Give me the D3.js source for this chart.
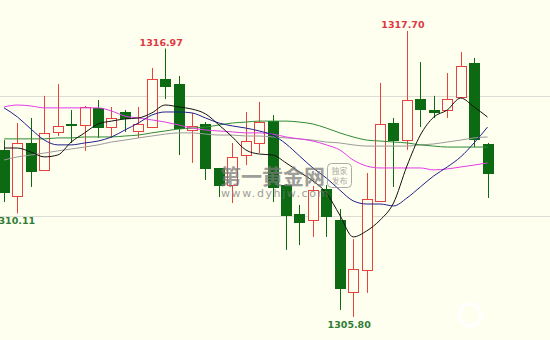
<!DOCTYPE html>
<html>
<head>
<meta charset="utf-8">
<script src="https://cdn.jsdelivr.net/npm/d3@7"></script>
<style>
  html, body { margin: 0; padding: 0; background: #fffff0; }
  svg { display: block; }
</style>
</head>
<body>
<div id="chart"></div>
<script>
// candle prices, one entry per bar (left to right)
const opens  = [1312.75, 1310.83, 1313.04, 1311.92, 1313.50, 1313.83, 1313.79, 1314.50, 1313.70, 1314.33,
                1313.54, 1313.70, 1315.70, 1315.49, 1313.58, 1313.83, 1312.00, 1311.29, 1312.54, 1313.04,
                1313.95, 1311.29, 1310.08, 1309.83, 1311.13, 1309.83, 1306.84, 1307.75, 1310.63, 1313.87,
                1313.16, 1314.87, 1314.41, 1314.41, 1314.95, 1316.37, 1313.00];
const highs  = [1313.16, 1313.87, 1314.08, 1315.00, 1315.49, 1314.41, 1314.58, 1314.83, 1314.54, 1314.41,
                1314.54, 1316.16, 1316.97, 1315.83, 1314.29, 1313.91, 1312.00, 1313.04, 1314.33, 1314.75,
                1314.20, 1311.33, 1310.46, 1311.25, 1311.29, 1310.29, 1309.04, 1311.79, 1315.54, 1314.08,
                1317.70, 1316.41, 1315.00, 1315.95, 1316.83, 1316.58, 1313.04];
const lows   = [1310.58, 1310.11, 1311.21, 1311.90, 1313.33, 1313.04, 1312.71, 1313.25, 1313.25, 1313.50,
                1313.25, 1313.66, 1314.87, 1312.54, 1312.21, 1311.50, 1310.79, 1310.54, 1312.12, 1312.62,
                1310.58, 1308.59, 1308.79, 1309.13, 1309.13, 1306.09, 1305.80, 1306.80, 1310.63, 1311.21,
                1312.75, 1313.70, 1314.08, 1314.08, 1314.95, 1312.87, 1310.75];
const closes = [1311.00, 1313.04, 1311.87, 1313.46, 1313.75, 1313.79, 1314.54, 1313.70, 1314.08, 1314.08,
                1313.83, 1315.70, 1315.41, 1313.66, 1313.75, 1312.00, 1311.29, 1312.46, 1313.12, 1313.91,
                1311.21, 1310.04, 1309.75, 1311.08, 1310.00, 1307.01, 1307.80, 1310.71, 1313.83, 1313.16,
                1314.83, 1314.45, 1314.33, 1314.87, 1316.24, 1313.21, 1311.79];

// moving averages
const ma5  = [1312.83, 1312.83, 1312.66, 1312.46, 1312.54, 1313.08, 1313.46, 1313.83, 1313.95, 1314.04,
              1314.08, 1314.29, 1314.62, 1314.54, 1314.45, 1314.25, 1313.79, 1313.29, 1312.75, 1312.58,
              1312.54, 1312.21, 1311.83, 1311.46, 1310.96, 1310.04, 1309.13, 1309.38, 1309.83, 1310.54,
              1312.08, 1313.37, 1314.12, 1314.41, 1314.91, 1314.54, 1314.12];
const ma10 = [1314.50, 1314.12, 1313.62, 1313.16, 1312.96, 1312.96, 1313.04, 1313.12, 1313.29, 1313.58,
              1313.87, 1314.20, 1314.33, 1314.33, 1314.29, 1314.08, 1313.87, 1313.75, 1313.66, 1313.54,
              1313.37, 1313.00, 1312.50, 1312.00, 1311.58, 1311.08, 1310.63, 1310.50, 1310.50, 1310.42,
              1310.75, 1311.21, 1311.67, 1312.04, 1312.46, 1313.04, 1313.70];
const ma20 = [1314.54, 1314.62, 1314.58, 1314.50, 1314.50, 1314.50, 1314.50, 1314.50, 1314.37, 1314.16,
              1314.08, 1314.00, 1313.91, 1313.79, 1313.66, 1313.58, 1313.54, 1313.50, 1313.46, 1313.46,
              1313.41, 1313.29, 1313.21, 1313.12, 1312.96, 1312.75, 1312.33, 1312.08, 1312.00, 1312.00,
              1312.00, 1312.00, 1311.92, 1311.96, 1312.04, 1312.12, 1312.21];
const ma30 = [1313.21, 1313.21, 1313.21, 1313.21, 1313.25, 1313.25, 1313.29, 1313.29, 1313.29, 1313.33,
              1313.37, 1313.46, 1313.54, 1313.62, 1313.66, 1313.70, 1313.79, 1313.87, 1313.91, 1313.95,
              1313.95, 1313.95, 1313.91, 1313.83, 1313.66, 1313.46, 1313.29, 1313.16, 1313.12, 1313.08,
              1313.04, 1312.96, 1312.91, 1312.87, 1312.87, 1312.87, 1312.87];
const ma60 = [1312.33, 1312.46, 1312.54, 1312.62, 1312.71, 1312.79, 1312.87, 1312.96, 1313.08, 1313.16,
              1313.25, 1313.33, 1313.41, 1313.46, 1313.46, 1313.41, 1313.37, 1313.37, 1313.33, 1313.33,
              1313.29, 1313.25, 1313.21, 1313.16, 1313.08, 1313.04, 1312.96, 1312.91, 1312.91, 1312.91,
              1312.91, 1312.96, 1313.00, 1313.08, 1313.16, 1313.25, 1313.29];

const gridLevels = [1310, 1315];
const highMarks = [12, 30];   // bars whose high is labelled
const lowMarks = [1, 26];     // bars whose low is labelled

const width = 550;
const height = 340;
const UP = '#e8423f';
const DOWN = '#0b6a12';

const svg = d3.select('#chart')
  .append('svg')
  .attr('width', width)
  .attr('height', height)
  .style('font-family', 'DejaVu Sans, Verdana, sans-serif');

svg.append('rect')
  .attr('width', width)
  .attr('height', height)
  .attr('fill', '#fffff0');

const x = d3.scaleLinear().domain([0, opens.length - 1]).range([4.07, 487.5]);
const y = d3.scaleLinear().domain([1304.84, 1318.99]).range([height, 0]);

const px = v => Math.round(v) + 0.5;

// horizontal grid
svg.selectAll('.grid')
  .data(gridLevels)
  .join('line')
  .attr('class', 'grid')
  .attr('x1', 0)
  .attr('x2', width)
  .attr('y1', d => px(y(d)))
  .attr('y2', d => px(y(d)))
  .attr('stroke', '#dcdcd4')
  .attr('stroke-width', 1);

const bars = opens.map((o, i) => ({ i, o, h: highs[i], l: lows[i], c: closes[i], up: closes[i] >= o }));

const candles = svg.append('g').selectAll('g')
  .data(bars)
  .join('g');

candles.append('line')
  .attr('x1', d => px(x(d.i)))
  .attr('x2', d => px(x(d.i)))
  .attr('y1', d => y(d.h))
  .attr('y2', d => y(d.l))
  .attr('stroke', d => d.up ? UP : DOWN)
  .attr('stroke-width', 1);

candles.append('rect')
  .attr('x', d => px(x(d.i)) - 5)
  .attr('width', 10)
  .attr('y', d => Math.round(y(Math.max(d.o, d.c))) + 0.5)
  .attr('height', d => Math.max(1, Math.round(Math.abs(y(d.o) - y(d.c)))))
  .attr('fill', d => d.up ? '#fffff0' : DOWN)
  .attr('stroke', d => d.up ? UP : DOWN)
  .attr('stroke-width', 1);

// moving average lines
const maSeries = [
  { values: ma60, color: '#9a9a9a' },
  { values: ma30, color: '#2f8a34' },
  { values: ma20, color: '#e23ce6' },
  { values: ma10, color: '#1f1f8a' },
  { values: ma5,  color: '#111111' }
];

const line = d3.line()
  .x((d, i) => x(i))
  .y(d => y(d))
  .curve(d3.curveMonotoneX);

svg.append('g').selectAll('path')
  .data(maSeries)
  .join('path')
  .attr('fill', 'none')
  .attr('stroke', d => d.color)
  .attr('stroke-width', 1)
  .attr('d', d => line(d.values));

// extreme labels
svg.selectAll('.hi')
  .data(highMarks)
  .join('text')
  .attr('x', i => x(i) - 4)
  .attr('y', i => y(highs[i]) - 3)
  .attr('text-anchor', 'middle')
  .attr('fill', '#dc3a44')
  .style('font-size', '9.5px')
  .style('font-weight', 'bold')
  .text(i => highs[i].toFixed(2));

svg.selectAll('.lo')
  .data(lowMarks)
  .join('text')
  .attr('x', i => x(i) - 4)
  .attr('y', i => y(lows[i]) + 11)
  .attr('text-anchor', 'middle')
  .attr('fill', '#2f7d34')
  .style('font-size', '9.5px')
  .style('font-weight', 'bold')
  .text(i => lows[i].toFixed(2));

// site watermark
const wm = svg.append('g').attr('opacity', 0.72);
wm.append('text')
  .attr('x', 220)
  .attr('y', 184)
  .attr('fill', '#7a7a7a')
  .style('font-family', 'Noto Sans CJK SC, sans-serif')
  .style('font-size', '21px')
  .style('font-weight', 'bold')
  .text('第一黄金网');
wm.append('text')
  .attr('x', 221)
  .attr('y', 197)
  .attr('fill', '#7a7a7a')
  .style('font-size', '11px')
  .style('letter-spacing', '1.6px')
  .text('www.dyhjw.com');
wm.append('rect')
  .attr('x', 327.5)
  .attr('y', 163.5)
  .attr('width', 24)
  .attr('height', 24)
  .attr('rx', 4)
  .attr('fill', 'none')
  .attr('stroke', '#8a8a8a')
  .attr('stroke-width', 1);
wm.selectAll('.seal')
  .data(['独家', '发布'])
  .join('text')
  .attr('x', 339.5)
  .attr('y', (d, i) => 174 + i * 10)
  .attr('text-anchor', 'middle')
  .attr('fill', '#8a8a8a')
  .style('font-family', 'Noto Sans CJK SC, sans-serif')
  .style('font-size', '8px')
  .text(d => d);

// faint logo bottom right
svg.append('circle')
  .attr('cx', 470)
  .attr('cy', 315)
  .attr('r', 11)
  .attr('fill', 'none')
  .attr('stroke', '#ffffff')
  .attr('stroke-width', 3);
</script>
</body>
</html>
